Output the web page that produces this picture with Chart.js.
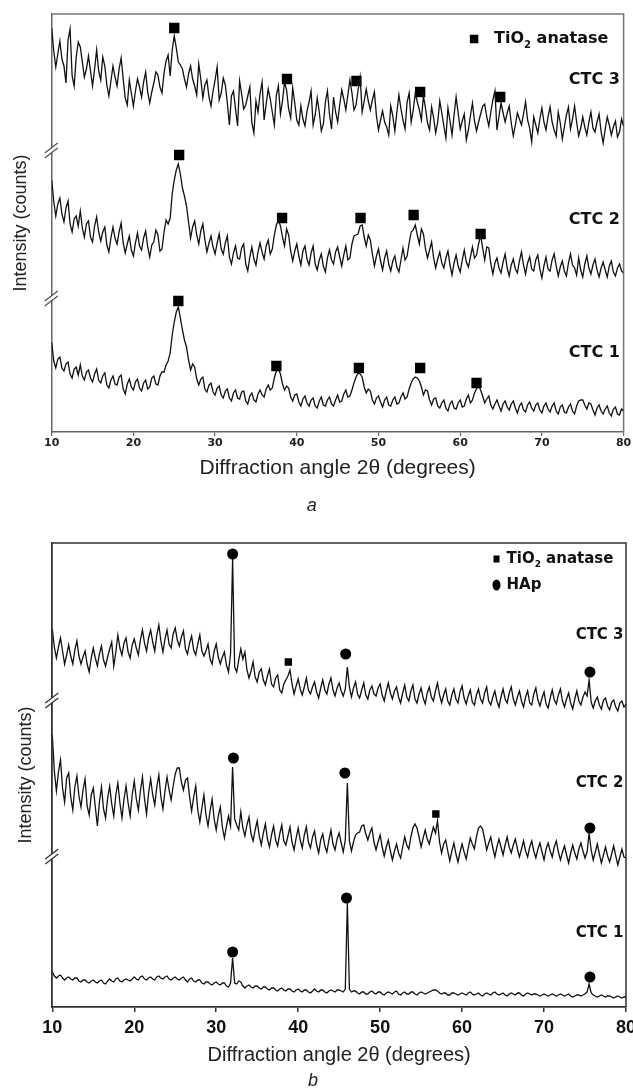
<!DOCTYPE html>
<html><head><meta charset="utf-8">
<script src="https://cdn.jsdelivr.net/npm/chart.js@4.4.1/dist/chart.umd.min.js"></script>
<style>
html,body{margin:0;padding:0;background:#fff;}
#wrap{position:relative;width:633px;height:1090px;overflow:hidden;background:#fff;}
#ca{position:absolute;left:0;top:0;}
#cb{position:absolute;left:0;top:530px;}
</style></head><body>
<div id="wrap"><canvas id="ca" width="633" height="530"></canvas><canvas id="cb" width="633" height="560"></canvas></div>
<script>
// ---------- DATA ----------
const angleStart = 10, angleStep = 0.25;   // 2θ sampling of the traces (10 → 80)
const xTicks = [10, 20, 30, 40, 50, 60, 70, 80];
const sampleNames = ['CTC 3', 'CTC 2', 'CTC 1'];

// Panel a – stacked intensities (a.u.), one line per 5°
const aCTC3 = [
404,381,365,378,391,373,366,349,392,403,356,346,375,390,385,370,355,363,376,361,
346,363,382,361,352,375,366,347,336,351,366,355,346,363,374,353,334,327,352,339,
326,341,353,345,335,350,360,340,329,340,349,360,357,345,339,359,371,377,356,382,
396,384,370,367,363,353,345,358,366,353,346,337,368,353,334,347,352,335,326,341,
352,365,332,339,354,347,329,307,336,341,323,306,351,338,323,327,336,345,309,299,
331,320,338,350,312,328,343,333,320,307,337,346,318,331,350,342,323,314,344,329,
312,307,326,313,306,321,330,341,307,317,334,320,301,308,330,341,318,303,335,320,
310,327,342,333,322,337,352,339,322,327,342,355,320,331,343,331,322,332,340,316,
302,312,321,310,305,297,326,316,301,320,337,323,312,303,330,339,310,322,339,330,
322,312,336,324,309,302,325,314,299,310,331,319,306,294,324,311,297,317,335,319,
303,311,318,292,302,316,329,311,301,310,318,326,328,315,306,320,332,341,302,316,
329,319,310,319,326,309,296,307,319,313,307,318,330,312,304,290,315,307,299,313,
324,310,302,315,325,310,302,296,320,309,293,305,317,325,303,313,326,310,296,304,
315,305,297,310,320,304,300,310,318,300,289,303,315,307,297,305,311,295,300,313,
306];
const aCTC2 = [
252,231,216,228,234,218,210,224,231,208,200,213,216,206,221,204,195,208,211,195,
190,206,215,200,191,200,205,187,180,194,205,194,188,200,209,189,179,188,196,182,
176,189,199,186,182,194,201,185,175,187,190,202,197,181,183,200,212,208,214,238,
252,262,268,258,244,236,226,210,194,205,211,197,188,201,208,192,180,189,196,185,
178,189,198,183,178,189,196,175,168,179,186,174,173,184,188,168,161,175,185,173,
167,180,189,180,173,186,192,178,183,197,207,212,206,195,186,203,197,181,171,181,
188,176,167,181,186,173,167,179,186,168,162,172,178,166,160,174,182,172,168,180,
185,175,166,177,186,172,174,188,196,197,198,206,207,195,186,197,192,178,166,176,
183,171,162,174,181,168,161,171,176,165,160,172,184,172,176,189,200,202,207,197,
188,203,198,183,174,182,190,174,164,173,180,169,164,174,181,167,157,169,177,166,
160,172,182,170,165,175,185,174,177,188,197,184,172,185,184,168,158,169,174,164,
159,170,178,164,156,167,173,163,159,171,180,167,158,169,175,163,161,172,177,163,
154,166,175,163,161,172,178,166,156,165,171,161,156,169,178,167,164,157,174,162,
155,168,176,164,158,167,173,162,155,164,170,162,155,166,171,160,156,164,168,161,
159];
const aCTC1 = [
90,71,64,73,75,64,61,68,70,58,54,63,65,57,67,56,52,60,62,54,
50,58,63,52,49,56,59,47,44,52,56,48,47,55,57,43,38,48,53,45,
42,50,53,44,41,49,52,43,45,54,56,48,47,56,60,60,67,71,79,97,
110,120,125,114,102,92,85,72,62,68,65,53,47,53,55,43,40,47,49,40,
37,44,46,37,34,41,43,34,31,39,42,34,33,40,41,31,28,36,39,32,
30,38,42,37,35,43,47,42,44,54,61,63,58,48,42,46,44,35,31,37,
38,30,26,33,36,29,26,32,34,26,24,31,35,27,26,32,35,28,26,32,
37,30,31,38,42,35,36,42,49,55,59,58,55,45,39,43,41,32,28,34,
36,30,25,32,35,27,26,32,35,28,29,35,39,33,35,43,49,53,55,54,
51,45,37,42,41,32,27,33,34,26,24,29,32,24,21,28,31,24,23,29,
32,25,26,33,37,29,32,39,43,46,42,36,29,33,36,27,23,28,32,26,
21,28,31,25,22,28,31,24,19,26,29,22,20,27,30,24,21,27,29,22,
19,26,29,23,20,26,29,21,18,25,27,20,19,25,28,21,18,26,31,32,
32,27,23,29,28,22,17,24,27,21,18,23,26,19,16,23,25,18,17,23,
21];
// TiO2 anatase peak markers, panel a
const aAnataseX3 = [25.0, 38.8, 47.3, 55.1, 64.9], aAnataseY3 = [404, 353, 351, 340, 335];
const aAnataseX2 = [25.6, 38.2, 47.8, 54.3, 62.5], aAnataseY2 = [277, 214, 214, 217, 198];
const aAnataseX1 = [25.5, 37.5, 47.6, 55.1, 62.0], aAnataseY1 = [131, 66, 64, 64, 49];
const aLabelY = [352, 212, 79];
const aBreaks = [282, 134];

// Panel b – stacked intensities (a.u.), one line per 5°
const bCTC3 = [
378,360,349,360,369,356,343,352,362,351,343,357,366,351,343,350,356,343,335,349,
359,349,341,353,361,347,341,350,358,365,341,355,372,359,352,364,369,355,349,362,
368,359,352,367,377,364,356,369,377,365,356,372,382,366,355,368,377,363,359,373,
379,367,361,370,376,358,353,364,371,357,352,363,372,356,351,356,363,348,343,356,
363,350,343,350,355,342,335,353,448,340,335,347,358,348,355,337,329,336,345,330,
325,335,338,327,322,331,338,323,320,329,332,317,314,323,327,331,337,323,313,321,
328,318,312,320,329,317,313,320,325,315,309,319,327,317,313,323,329,317,311,319,
324,316,311,318,340,320,310,319,325,313,309,317,324,312,308,317,321,313,311,319,
323,312,306,316,324,314,308,316,320,310,304,314,322,310,306,316,322,308,304,313,
319,309,303,314,320,310,306,316,324,312,304,312,318,306,302,312,318,308,304,315,
321,309,303,311,317,305,302,312,318,308,304,314,320,306,302,310,316,306,300,310,
318,308,304,314,320,308,302,310,316,306,300,310,316,304,302,313,319,307,301,309,
315,303,299,309,317,307,303,312,318,306,300,308,314,304,298,308,316,306,302,310,
315,311,327,305,299,306,310,302,298,307,309,301,297,305,307,300,296,304,306,300,
303];
const bCTC2 = [
272,236,216,235,247,219,205,229,234,210,197,220,231,211,200,217,228,201,192,212,
219,200,181,205,220,198,189,209,221,203,191,212,224,204,189,208,221,204,191,212,
226,208,197,216,230,208,193,214,228,212,202,220,232,210,198,216,230,217,207,221,
233,239,239,225,217,227,229,210,196,210,221,197,185,199,212,192,181,196,208,188,
177,191,200,180,169,181,191,181,240,188,182,177,195,179,171,182,190,173,166,177,
186,171,162,174,183,168,160,172,181,167,161,173,182,166,162,171,180,165,157,169,
179,167,159,172,180,165,159,170,176,162,154,167,173,161,155,167,177,163,157,168,
174,164,155,167,224,166,156,165,172,174,175,181,182,173,167,174,179,165,157,165,
172,160,151,160,167,156,147,156,163,154,149,160,170,162,158,170,179,183,179,170,
160,169,177,168,163,172,180,174,186,165,154,163,167,156,146,156,164,153,145,155,
163,155,148,159,169,163,158,170,179,181,178,168,157,164,170,159,150,160,168,160,
152,162,170,160,154,162,168,158,150,158,166,156,150,160,166,156,149,158,164,155,
147,158,164,156,150,160,166,155,147,155,161,152,144,154,162,154,148,158,164,156,
149,155,174,157,147,155,163,153,144,152,160,151,145,153,161,151,142,150,158,150,
149];
const bCTC1 = [
35,31,29,31,32,29,27,29,30,28,27,29,29,26,25,27,27,25,24,26,
27,25,24,26,27,24,23,26,28,26,25,28,29,26,25,27,28,27,26,28,
30,28,27,30,31,28,27,29,30,28,27,30,31,29,28,30,31,28,27,29,
30,28,27,29,30,27,25,28,29,26,25,27,27,24,23,25,25,23,22,24,
25,23,22,24,24,21,20,24,49,24,23,26,25,21,19,21,22,20,19,21,
21,19,18,20,20,18,17,19,19,17,16,18,19,17,16,18,18,16,15,17,
18,16,15,17,17,15,14,16,18,16,15,17,17,15,14,16,17,16,15,17,
17,16,15,18,104,18,15,16,16,14,13,15,15,13,13,15,16,14,13,15,
15,13,12,14,15,14,13,15,16,13,12,14,15,13,13,15,15,13,12,14,
15,14,13,14,15,16,17,17,16,14,13,14,14,12,12,14,14,13,12,13,
14,13,12,14,15,13,12,13,14,12,11,13,14,13,12,14,15,13,12,13,
14,12,11,13,14,13,12,14,14,12,11,13,14,13,12,13,13,12,11,12,
13,12,11,12,13,12,11,12,13,12,11,12,13,11,10,11,12,12,11,12,
13,15,23,14,12,11,10,11,12,11,10,11,11,10,9,10,11,10,9,10,
10];
// HAp (circle) and TiO2 anatase (square) markers, panel b
const bHApX3 = [32.0, 45.8, 75.6], bHApY3 = [453, 353, 335];
const bHApX2 = [32.1, 45.7, 75.6], bHApY2 = [249, 234, 179];
const bHApX1 = [32.0, 45.9, 75.6], bHApY1 = [55, 109, 30];
const bAnataseX = [38.8, 56.8], bAnataseY = [345, 193];
const bLabelY = [372, 224, 74];
const bBreaks = [307, 151];

// ---------- HELPERS ----------
const series = vals => vals.map((v, i) => ({x: angleStart + i * angleStep, y: v}));
const pts = (xs, ys) => xs.map((x, i) => ({x: x, y: ys[i]}));

Chart.defaults.font.family = '"Liberation Sans", Arial, sans-serif';
Chart.defaults.color = '#222';

const framePlugin = {
  id: 'frame',
  beforeDatasetsDraw(chart, args, o) {
    const {ctx, chartArea: {left, right, top, bottom}} = chart;
    ctx.save();
    ctx.strokeStyle = o.color; ctx.lineWidth = o.width;
    ctx.beginPath();
    ctx.moveTo(left, top); ctx.lineTo(right, top); ctx.lineTo(right, bottom);
    ctx.stroke();
    ctx.restore();
  }
};

const breakPlugin = {
  id: 'breaks',
  afterDraw(chart, args, o) {
    const {ctx, chartArea: {left}, scales: {y}} = chart;
    ctx.save();
    o.levels.forEach(v => {
      const py = y.getPixelForValue(v);
      ctx.fillStyle = '#fff';
      ctx.beginPath();
      ctx.moveTo(left - 6, py + 2); ctx.lineTo(left + 6, py - 7);
      ctx.lineTo(left + 6, py - 2); ctx.lineTo(left - 6, py + 7);
      ctx.closePath(); ctx.fill();
      ctx.strokeStyle = o.color; ctx.lineWidth = o.width;
      ctx.beginPath();
      ctx.moveTo(left - 7, py + 3); ctx.lineTo(left + 6, py - 7);
      ctx.moveTo(left - 7, py + 8); ctx.lineTo(left + 6, py - 2);
      ctx.stroke();
    });
    ctx.restore();
  }
};

const notesPlugin = {
  id: 'notes',
  afterDatasetsDraw(chart, args, o) {
    const {ctx, scales: {x, y}} = chart;
    ctx.save();
    ctx.fillStyle = '#111';
    ctx.font = o.labelFont;
    ctx.textBaseline = 'middle';
    ctx.textAlign = 'right';
    o.labels.forEach((t, i) => ctx.fillText(t, x.getPixelForValue(o.labelX), y.getPixelForValue(o.labelY[i])));
    ctx.textAlign = 'left';
    o.legend.forEach(item => {
      const px = x.getPixelForValue(item.x), py = y.getPixelForValue(item.y);
      ctx.fillStyle = '#000';
      if (item.style === 'rect') {
        ctx.fillRect(px - item.w / 2, py - item.h / 2, item.w, item.h);
      } else {
        ctx.beginPath(); ctx.ellipse(px, py, item.w / 2, item.h / 2, 0, 0, Math.PI * 2); ctx.fill();
      }
      ctx.fillStyle = '#111';
      let tx = px + item.gap;
      item.text.forEach(([s, sub]) => {
        ctx.font = sub ? o.subFont : o.legendFont;
        ctx.fillText(s, tx, py + (sub ? 6 : 0));
        tx += ctx.measureText(s).width;
      });
    });
    ctx.restore();
  }
};

const traceStyle = {borderColor: '#111', borderWidth: 1.3, pointRadius: 0, tension: 0, fill: false};

// ---------- PANEL a ----------
new Chart(document.getElementById('ca'), {
  type: 'line',
  data: {datasets: [
    Object.assign({data: series(aCTC3)}, traceStyle),
    Object.assign({data: series(aCTC2)}, traceStyle),
    Object.assign({data: series(aCTC1)}, traceStyle),
    {data: pts(aAnataseX3, aAnataseY3).concat(pts(aAnataseX2, aAnataseY2), pts(aAnataseX1, aAnataseY1)),
     showLine: false, pointStyle: 'rect', pointRadius: 7.3, backgroundColor: '#000', borderWidth: 0}
  ]},
  options: {
    responsive: false, animation: false, devicePixelRatio: 1,
    layout: {padding: {left: 0, right: 9.4, top: 14, bottom: 0}},
    plugins: {
      legend: {display: false}, tooltip: {enabled: false},
      title: {display: true, text: 'a', position: 'bottom', color: '#222',
        font: {family: '"Liberation Sans"', style: 'italic', weight: 'normal', size: 18, lineHeight: 1.2},
        padding: {top: 4, bottom: 13}},
      frame: {color: '#777', width: 1.5},
      breaks: {levels: aBreaks, color: '#555', width: 1.3},
      notes: {labels: sampleNames, labelX: 79.55, labelY: aLabelY,
        labelFont: 'bold 16px "DejaVu Sans"', legendFont: 'bold 16px "DejaVu Sans"', subFont: 'bold 10px "DejaVu Sans"',
        legend: [{style: 'rect', x: 61.7, y: 393, w: 8.5, h: 8.5, gap: 20, text: [['TiO', false], ['2', true], [' anatase', false]]}]}
    },
    scales: {
      x: {type: 'linear', min: 10, max: 80,
        afterBuildTicks: s => { s.ticks = xTicks.map(v => ({value: v})); },
        ticks: {font: {family: '"DejaVu Sans"', weight: 'bold', size: 11}, color: '#222', padding: 1, maxRotation: 0, autoSkip: false},
        grid: {display: true, drawOnChartArea: false, drawTicks: true, tickLength: 4, color: '#666', lineWidth: 1.2},
        border: {display: true, color: '#666', width: 1.5},
        title: {display: true, text: 'Diffraction angle 2θ (degrees)', color: '#222',
          font: {family: '"Liberation Sans"', size: 21, lineHeight: 1.2}, padding: {top: 0, bottom: 10.8}},
        afterFit: s => { s.height = 59.4; s.paddingLeft = 0; s.paddingRight = 0; }},
      y: {min: 0, max: 418,
        ticks: {display: false}, grid: {display: false},
        border: {display: true, color: '#666', width: 1.5},
        title: {display: true, text: 'Intensity (counts)', color: '#222',
          font: {family: '"Liberation Sans"', size: 18, lineHeight: 1.2}, padding: {top: 10.2, bottom: 0}},
        afterFit: s => { s.width = 51.7; s.paddingTop = 0; s.paddingBottom = 0; }}
    }
  },
  plugins: [framePlugin, breakPlugin, notesPlugin]
});

// ---------- PANEL b ----------
new Chart(document.getElementById('cb'), {
  type: 'line',
  data: {datasets: [
    Object.assign({data: series(bCTC3)}, traceStyle),
    Object.assign({data: series(bCTC2)}, traceStyle),
    Object.assign({data: series(bCTC1)}, traceStyle),
    {data: pts(bHApX3, bHApY3).concat(pts(bHApX2, bHApY2), pts(bHApX1, bHApY1)),
     showLine: false, pointStyle: 'circle', pointRadius: 5.5, backgroundColor: '#000', borderWidth: 0},
    {data: pts(bAnataseX, bAnataseY),
     showLine: false, pointStyle: 'rect', pointRadius: 5.2, backgroundColor: '#000', borderWidth: 0}
  ]},
  options: {
    responsive: false, animation: false, devicePixelRatio: 1,
    layout: {padding: {left: 0, right: 7, top: 13, bottom: 0}},
    plugins: {
      legend: {display: false}, tooltip: {enabled: false},
      title: {display: true, text: 'b', position: 'bottom', color: '#222',
        font: {family: '"Liberation Sans"', style: 'italic', weight: 'normal', size: 18, lineHeight: 1.0},
        padding: {top: 3, bottom: 0}},
      frame: {color: '#333', width: 1.5},
      breaks: {levels: bBreaks, color: '#333', width: 1.3},
      notes: {labels: sampleNames, labelX: 79.7, labelY: bLabelY,
        labelFont: 'bold 15px "DejaVu Sans"', legendFont: 'bold 15px "DejaVu Sans"', subFont: 'bold 9px "DejaVu Sans"',
        legend: [
          {style: 'rect', x: 64.2, y: 448, w: 6, h: 7, gap: 10, text: [['TiO', false], ['2', true], [' anatase', false]]},
          {style: 'circle', x: 64.2, y: 422, w: 8, h: 11, gap: 10, text: [['HAp', false]]}
        ]}
    },
    scales: {
      x: {type: 'linear', min: 10, max: 80,
        afterBuildTicks: s => { s.ticks = xTicks.map(v => ({value: v})); },
        ticks: {font: {family: '"Liberation Sans"', weight: 'bold', size: 18}, color: '#111', padding: 5, maxRotation: 0, autoSkip: false},
        grid: {display: true, drawOnChartArea: false, drawTicks: true, tickLength: 5, color: '#333', lineWidth: 1.5},
        border: {display: true, color: '#333', width: 1.8},
        title: {display: true, text: 'Diffraction angle 2θ (degrees)', color: '#222',
          font: {family: '"Liberation Sans"', size: 20, lineHeight: 1.2}, padding: {top: 0, bottom: 2}},
        afterFit: s => { s.height = 62; s.paddingLeft = 0; s.paddingRight = 0; }},
      y: {min: 0, max: 464,
        ticks: {display: false}, grid: {display: false},
        border: {display: true, color: '#333', width: 1.8},
        title: {display: true, text: 'Intensity (counts)', color: '#222',
          font: {family: '"Liberation Sans"', size: 18, lineHeight: 1.2}, padding: {top: 15, bottom: 0}},
        afterFit: s => { s.width = 52.3; s.paddingTop = 0; s.paddingBottom = 0; }}
    }
  },
  plugins: [framePlugin, breakPlugin, notesPlugin]
});
</script>
</body></html>
